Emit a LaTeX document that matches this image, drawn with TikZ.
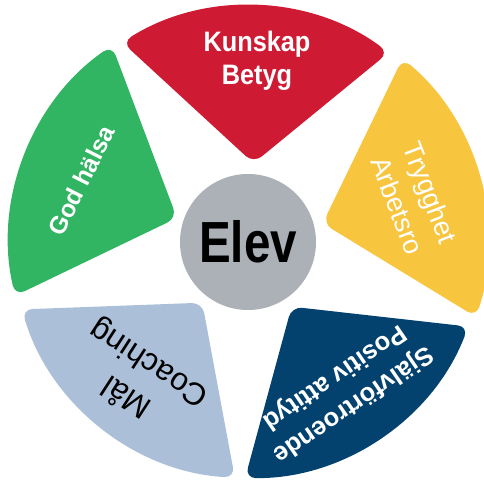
\documentclass[tikz,border=0pt]{standalone}
\usepackage{fontspec}
\setmainfont{Liberation Sans}
\newfontfamily\elevfont[FakeStretch=0.82]{Liberation Sans}
\newfontfamily\rubrikfont[FakeStretch=0.9]{Liberation Sans}
\definecolor{kunskapRod}{HTML}{CE1B33}
\definecolor{tryggGul}{HTML}{F8C53F}
\definecolor{sjalvBla}{HTML}{03426E}
\definecolor{malBla}{HTML}{ABBFD8}
\definecolor{halsaGron}{HTML}{31B563}
\definecolor{elevGra}{HTML}{ABB1B7}
\begin{document}
\begin{tikzpicture}[line join=round, line cap=round,
    blad/.style={rounded corners=6pt},
    vittext/.style={text=white, align=center}]
  \useasboundingbox (-4.96,-4.78) rectangle (4.72,4.84);
  % Mitten
  \coordinate (O) at (0,0);
  % Bladen
  \fill[blad, kunskapRod] (86:1.58) -- (122.2:4.72) arc[start angle=122.2, end angle=53.4, radius=4.72] -- cycle;
  \fill[blad, tryggGul] (14:1.54) -- (49.9:4.8) arc[start angle=49.9, end angle=-18.2, radius=4.8] -- cycle;
  \fill[blad, sjalvBla] (-56:1.56) -- (-21:4.72) arc[start angle=-21, end angle=-90.7, radius=4.72] -- cycle;
  \fill[blad, malBla] (233:1.52) -- (266.8:4.72) arc[start angle=266.8, end angle=196.6, radius=4.72] -- cycle;
  \fill[blad, halsaGron] (161.3:1.5) -- (193:4.78) arc[start angle=193, end angle=124.7, radius=4.78] -- cycle;
  % Cirkeln
  \node[circle, fill=elevGra, minimum size=2.72cm, inner sep=0pt] (elev) at (O)
    {\elevfont\bfseries\fontsize{33}{33}\selectfont Elev};
  % Texter
  \node[vittext, font=\rubrikfont\bfseries\fontsize{16}{19}\selectfont] (kunskap) at (0.18,3.62) {Kunskap\\Betyg};
  \node[vittext, rotate=-69, font=\fontsize{15.4}{20}\selectfont] (trygghet) at (3.32,0.86) {Trygghet\\Arbetsro};
  \node[vittext, rotate=214.5, font=\bfseries\fontsize{14.5}{19}\selectfont] (sjalv) at (1.91,-2.97) {Självförtroende\\Positiv attityd};
  \node[align=center, rotate=147, font=\fontsize{18}{23}\selectfont] (mal) at (-2.2,-2.76) {Mål\\Coaching};
  \node[vittext, rotate=63.2, font=\bfseries\fontsize{14}{17}\selectfont] (halsa) at (-3.33,1.23) {God hälsa};
\end{tikzpicture}
\end{document}
